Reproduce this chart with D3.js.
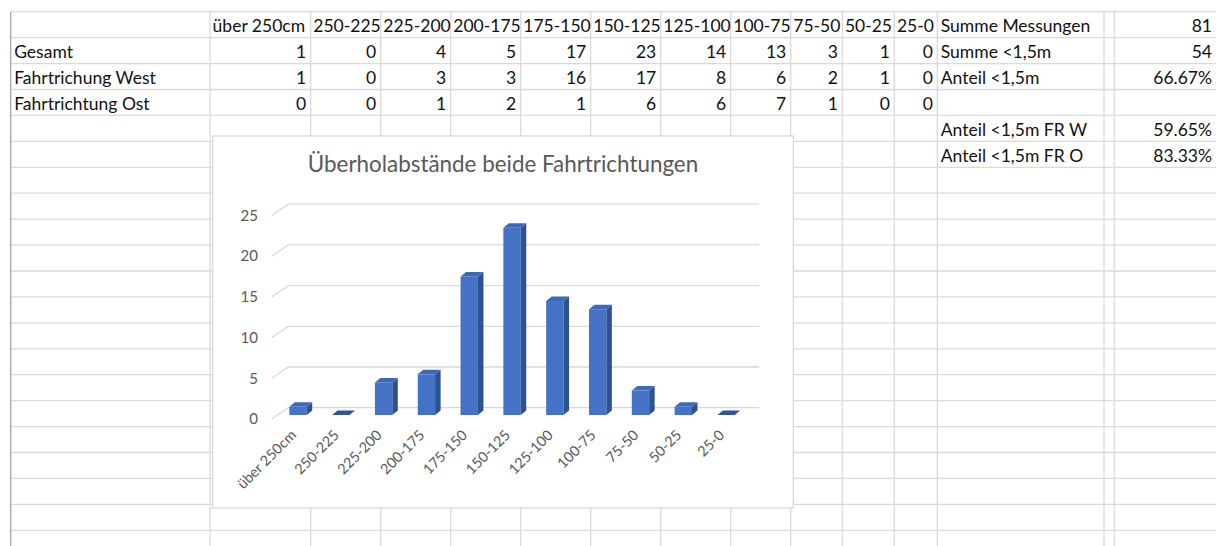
<!DOCTYPE html>
<html>
<head>
<meta charset="utf-8">
<script src="https://cdn.jsdelivr.net/npm/d3@7"></script>
<style>
  body { margin: 0; background: #fff; }
  svg { display: block; }
  text { font-family: Lato, "Open Sans", sans-serif; }
</style>
</head>
<body>
<svg id="sheet" width="1216" height="546"></svg>
<script>
// data
var categories = ["über 250cm", "250-225", "225-200", "200-175", "175-150", "150-125", "125-100", "100-75", "75-50", "50-25", "25-0"];
var rowLabels = ["Gesamt", "Fahrtrichung West", "Fahrtrichtung Ost"];
var gesamt = [1, 0, 4, 5, 17, 23, 14, 13, 3, 1, 0];
var west = [1, 0, 3, 3, 16, 17, 8, 6, 2, 1, 0];
var ost = [0, 0, 1, 2, 1, 6, 6, 7, 1, 0, 0];
var summaryLabels = ["Summe Messungen", "Summe <1,5m", "Anteil <1,5m", "", "Anteil <1,5m FR W", "Anteil <1,5m FR O"];
var summaryValues = ["81", "54", "66.67%", "", "59.65%", "83.33%"];
var yTicks = [0, 5, 10, 15, 20, 25];
var chartTitle = "Überholabstände beide Fahrtrichtungen";

var W = 1216, H = 546;
var svg = d3.select("#sheet");

// spreadsheet grid
var colEdges = [10.7, 210, 310.7, 380.7, 450.7, 520.7, 590.7, 660.7, 730.7, 790.7, 842.3, 894.3, 937.3, 1104, 1114.3, 1300];
var rowTop = 11.7, rowH = 25.93;
var rowEdges = d3.range(0, 22).map(function(k) { return rowTop + k * rowH; });

var grid = svg.append("g").attr("stroke", "#dadada").attr("stroke-width", 1.3);
grid.selectAll("line.h").data(rowEdges).enter().append("line")
  .attr("x1", colEdges[0]).attr("x2", W)
  .attr("y1", function(d) { return d; }).attr("y2", function(d) { return d; });
grid.selectAll("line.v").data(colEdges.slice(1)).enter().append("line")
  .attr("x1", function(d) { return d; }).attr("x2", function(d) { return d; })
  .attr("y1", rowTop).attr("y2", H);
svg.append("line").attr("x1", colEdges[0]).attr("x2", colEdges[0])
  .attr("y1", rowTop).attr("y2", H).attr("stroke", "#a6a6a6").attr("stroke-width", 1.3);

// cell text
var fs = 17.5;
var cells = svg.append("g").attr("font-size", fs).attr("fill", "#111");
function baseline(r) { return rowEdges[r] + 20.5; }

cells.selectAll("text.head").data(categories).enter().append("text")
  .attr("x", function(d, i) { return colEdges[i + 1] + 2.6; })
  .attr("y", baseline(0))
  .text(function(d) { return d; });

cells.selectAll("text.rl").data(rowLabels).enter().append("text")
  .attr("x", colEdges[0] + 3.5)
  .attr("y", function(d, i) { return baseline(i + 1); })
  .text(function(d) { return d; });

[gesamt, west, ost].forEach(function(series, r) {
  cells.selectAll("text.v" + r).data(series).enter().append("text")
    .attr("text-anchor", "end")
    .attr("x", function(d, i) { return colEdges[i + 2] - 4.5; })
    .attr("y", baseline(r + 1))
    .text(function(d) { return d; });
});

cells.selectAll("text.sl").data(summaryLabels).enter().append("text")
  .attr("x", colEdges[12] + 3.5)
  .attr("y", function(d, i) { return baseline(i); })
  .text(function(d) { return d; });
cells.selectAll("text.sv").data(summaryValues).enter().append("text")
  .attr("text-anchor", "end")
  .attr("x", 1212)
  .attr("y", function(d, i) { return baseline(i); })
  .text(function(d) { return d; });

// chart object
var box = { x: 212.7, y: 136, w: 580.6, h: 372 };
svg.append("rect")
  .attr("x", box.x).attr("y", box.y).attr("width", box.w).attr("height", box.h)
  .attr("fill", "#fff").attr("stroke", "#d9d9d9").attr("stroke-width", 1.3);

var chart = svg.append("g");

chart.append("text")
  .attr("x", box.x + box.w / 2).attr("y", 172)
  .attr("text-anchor", "middle")
  .attr("font-size", 22.4).attr("fill", "#595959")
  .text(chartTitle);

// 3d geometry: front edge of floor, wall depth, bar depth
var frontLeft = 271.7, frontRight = 742.6;
var wallDx = 16.6, wallDy = -11.3;
var barOffX = 4.9, barOffY = -4;
var barDx = 5.5, barDy = -4.5;

var y = d3.scaleLinear().domain([0, 25]).range([419, 215.5]);
var x = d3.scaleBand().domain(categories)
  .range([frontLeft + barOffX, frontRight + barOffX])
  .paddingInner(0.594).paddingOuter(0.297);

// gridlines with slanted side-wall part
chart.append("g").selectAll("path").data(yTicks).enter().append("path")
  .attr("fill", "none").attr("stroke", "#d9d9d9").attr("stroke-width", 1.3)
  .attr("d", function(v) {
    var yf = y(v);
    return "M" + frontLeft + "," + yf + "L" + (frontLeft + wallDx) + "," + (yf + wallDy) +
      "L" + (frontRight + wallDx) + "," + (yf + wallDy);
  });

chart.append("g").selectAll("text").data(yTicks).enter().append("text")
  .attr("x", 258).attr("y", function(v) { return y(v); })
  .attr("dy", "0.35em").attr("text-anchor", "end")
  .attr("font-size", 15).attr("fill", "#595959")
  .text(function(v) { return v; });

// columns
var bars = chart.append("g").selectAll("g").data(gesamt).enter().append("g");
bars.each(function(v, i) {
  var g = d3.select(this);
  var x0 = x(categories[i]), x1 = x0 + x.bandwidth();
  var yb = y(0) + barOffY, yt = y(v) + barOffY;
  if (v > 0) {
    g.append("path").attr("fill", "#4472c4")
      .attr("d", "M" + x0 + "," + yb + "H" + x1 + "V" + yt + "H" + x0 + "Z");
    g.append("path").attr("fill", "#2e5290")
      .attr("d", "M" + x1 + "," + yb + "L" + (x1 + barDx) + "," + (yb + barDy) +
        "L" + (x1 + barDx) + "," + (yt + barDy) + "L" + x1 + "," + yt + "Z");
  }
  g.append("path").attr("fill", v > 0 ? "#3d69ba" : "#2f5597")
    .attr("d", "M" + x0 + "," + yt + "L" + x1 + "," + yt + "L" + (x1 + barDx) + "," + (yt + barDy) +
      "L" + (x0 + barDx) + "," + (yt + barDy) + "Z");
});

// category labels
chart.append("g").selectAll("text").data(categories).enter().append("text")
  .attr("text-anchor", "end")
  .attr("font-size", 14.4).attr("fill", "#595959")
  .attr("transform", function(d) {
    return "translate(" + (x(d) + x.bandwidth() / 2 - 1) + ",436) rotate(-45)";
  })
  .text(function(d) { return d; });
</script>
</body>
</html>
